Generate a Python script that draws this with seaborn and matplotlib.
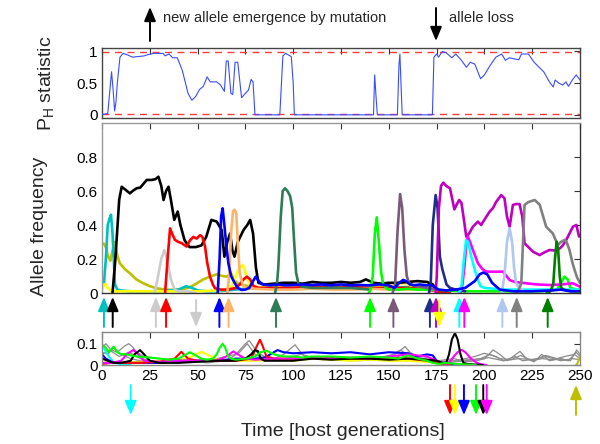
import numpy as np
import pandas as pd
import matplotlib
matplotlib.use("Agg")
import matplotlib.pyplot as plt
import seaborn as sns

# ---------------- data ----------------
# P_H statistic (top panel)
ph_t = [0,1,3,4,5,5.8,6.6,7.3,8,9.4,11,13,16,19,22,24,27,30,32,33,35,37,39.4,42,45,47,49,51,53,55,
        56.6,58,60,62,64,65,66,67.4,68.4,69.6,71,73,75,76.6,78,79,80,85,90,93,94.6,96,99,100,100.6,
        105,120,135,142,142.6,143.3,144,150,154.5,155.3,155.8,157,165,172.8,173.6,175,176,178,180,183,
        185,188,190.6,192.6,195,198,200,203,206,209,211,213,216,218,219.4,223,226,231,234,236,237,239,
        241,242.6,244,246,248,250]
ph_v = [0.01,0.01,0.02,0.35,0.68,0.4,0.06,0.2,0.5,0.91,0.97,0.95,0.91,0.92,0.93,0.95,0.97,0.97,0.97,0.93,
        0.96,0.9,0.9,0.7,0.34,0.23,0.29,0.4,0.45,0.6,0.52,0.52,0.52,0.47,0.37,0.85,0.85,0.34,0.32,0.83,
        0.83,0.27,0.34,0.39,0.56,0.52,0.0,0.0,0.0,0.0,0.93,0.97,0.92,0.5,0.0,0.0,0.0,0.0,0.0,0.63,
        0.3,0.0,0.0,0.0,0.78,0.96,0.0,0.0,0.0,0.91,0.96,0.91,1.0,0.98,0.9,0.96,0.86,0.75,0.83,0.8,
        0.57,0.63,0.78,0.91,0.96,0.86,0.9,0.88,0.87,0.96,0.96,0.83,0.68,0.52,0.44,0.55,0.5,0.47,0.52,0.45,
        0.55,0.63,0.55]

# Allele frequencies (middle panel)
olive_t = [0,1,2,3,4.4,5.5,6.7,8,9.3,12,14.6,18,21.6,25,28.6,33,37.3,41,44.3,47,49.6,53,56.5,60,63,
           65.6,67.3,69,70.8,74,77.7,85,100,120,140,160,175]
olive_f = [0.29,0.29,0.27,0.22,0.19,0.25,0.3,0.22,0.175,0.14,0.116,0.08,0.057,0.04,0.028,0.02,0.018,0.022,
           0.028,0.04,0.057,0.08,0.096,0.11,0.1,0.096,0.12,0.08,0.057,0.045,0.04,0.03,0.025,0.03,0.025,0.03,0.02]
teal_t = [0,1,2,3,4,4.7,5.5,6.8,8,10,15,20,30,40,44,47,50,55,60,70,80,90,100,120,140,160,175]
teal_f = [0.03,0.05,0.2,0.4,0.44,0.46,0.35,0.05,0.02,0.015,0.01,0.01,0.01,0.02,0.04,0.03,0.015,0.01,0.01,
          0.02,0.03,0.03,0.03,0.035,0.03,0.035,0.02]
black_t = [5.5,7,9,10.3,12,14.6,16,18.1,20,23.4,26,28,29.5,31,32.2,33.5,34.8,36,37.8,39.6,41,43.2,45.8,49,
           52,54.5,57.2,60,62.6,64,65.5,67,68.2,69.3,71,74,76,77.5,79,80.5,81.8,85,90,95,100,105,110,115,
           120,125,130,135,138,142,146,150,155,160,165,170,173,175,176]
black_f = [0.0,0.2,0.55,0.625,0.61,0.586,0.6,0.616,0.62,0.665,0.665,0.67,0.684,0.63,0.547,0.6,0.625,0.55,
           0.43,0.479,0.4,0.31,0.27,0.27,0.28,0.33,0.43,0.42,0.37,0.214,0.3,0.35,0.25,0.214,0.3,0.37,0.4,
           0.43,0.35,0.15,0.06,0.05,0.055,0.06,0.06,0.055,0.065,0.06,0.06,0.065,0.06,0.065,0.08,0.06,0.055,
           0.06,0.06,0.065,0.07,0.065,0.05,0.02,0.0]
yellow_t = [0,1,2,3,5,10,20,30,40,50,60,65,68,70,72,73.7,75,77,80,90,100,110,120,130,140,150,155,158,
            162,167,172,176,177]
yellow_f = [0.02,0.05,0.05,0.03,0.01,0.01,0.01,0.01,0.01,0.01,0.015,0.02,0.04,0.1,0.15,0.165,0.12,0.05,
            0.03,0.035,0.03,0.035,0.03,0.035,0.03,0.04,0.05,0.06,0.04,0.04,0.03,0.01,0.0]
lgray_t = [27.5,29,31,32.6,34,36,38,40,42,45,49]
lgray_f = [0.0,0.08,0.2,0.253,0.2,0.08,0.02,0.01,0.01,0.01,0.0]
red_t = [33,34.3,35.6,37,38.2,40,41.7,44.3,46,47.8,49.5,51.3,52.5,53.9,55,56.5,58,59.1,62,66,70,72,74,
         75.8,77.5,79.3,82,90,100,110,120,130,140,150,160,170,175,180,182]
red_f = [0.0,0.2,0.38,0.34,0.312,0.3,0.293,0.273,0.31,0.33,0.32,0.34,0.33,0.273,0.18,0.096,0.05,0.028,
         0.02,0.02,0.03,0.05,0.08,0.096,0.08,0.04,0.03,0.03,0.03,0.04,0.03,0.035,0.03,0.03,0.03,0.02,0.01,
         0.005,0.0]
orange_t = [65.5,66.5,67.5,68.5,69.3,70.2,71,72,73.5,75,80,90,100,110,120,130,140,150,160,170,175]
orange_f = [0.0,0.1,0.35,0.48,0.49,0.47,0.3,0.12,0.05,0.03,0.025,0.02,0.02,0.025,0.02,0.02,0.025,0.02,
            0.02,0.02,0.015]
sgreen_t = [90.5,91.5,92.2,93.5,94.5,95.7,97,98.4,99.5,100.5,101.5,102.7,104,106,110,120,130,140]
sgreen_f = [0.0,0.05,0.15,0.45,0.6,0.616,0.6,0.57,0.5,0.3,0.12,0.057,0.04,0.035,0.03,0.03,0.03,0.02]
lime_t = [139.5,140.5,141.6,142.7,143.7,144.8,146,147.1,148.5,150,155,160,165,170,175,180,190,200,210,
          220,230,238,240,241.9,243.5,245,248,250]
lime_f = [0.0,0.02,0.1,0.35,0.445,0.3,0.12,0.05,0.03,0.02,0.02,0.025,0.02,0.02,0.02,0.015,0.01,0.01,
          0.01,0.01,0.01,0.02,0.06,0.096,0.08,0.03,0.02,0.02]
mauve_t = [152,153.3,154.5,155.9,157,158.2,159.4,160.5,162,165,170,175]
mauve_f = [0.0,0.05,0.35,0.582,0.5,0.25,0.1,0.06,0.05,0.04,0.03,0.02]
navy_t = [171,171.9,173,174.5,175.5,176.7,178,180.2,182,185,190]
navy_f = [0.0,0.05,0.4,0.576,0.5,0.214,0.14,0.05,0.03,0.02,0.01]
purple_t = [174.5,175.1,176.2,177.3,178.5,180,182,184.3,185.5,186.8,188,189.3,190.5,192,194,196.6,198.3,
            200.5,202.7,204.5,206.2,208.8,210.5,211.8,213.2,214.9,216.5,218.4,219.8,221,223,225.4,228.9,
            231.5,234.1,236.7,239.4,241,242.8,244.5,246.3,248.1,249.5]
purple_f = [0.0,0.1,0.5,0.63,0.649,0.63,0.616,0.492,0.52,0.547,0.53,0.43,0.332,0.35,0.39,0.42,0.4,0.44,
            0.478,0.5,0.537,0.576,0.557,0.45,0.39,0.518,0.523,0.523,0.45,0.292,0.27,0.243,0.223,0.24,
            0.253,0.25,0.262,0.28,0.312,0.35,0.39,0.4,0.332]
magenta_t = [187.5,188.5,189.5,190.5,191.3,192.5,194,196.6,199,201,205,209.7,211.5,213.2,216,221.9,228,
             234,240,246.3,250]
magenta_f = [0.0,0.05,0.15,0.28,0.332,0.3,0.253,0.175,0.14,0.126,0.125,0.126,0.1,0.076,0.065,0.057,0.05,
             0.047,0.05,0.057,0.037]
cyan_t = [186.5,187.5,188.1,189.3,190.4,191.5,193,195,196.5,198,200,205,210,220,230,240,250]
cyan_f = [0.0,0.02,0.05,0.2,0.31,0.3,0.22,0.135,0.08,0.04,0.03,0.025,0.02,0.02,0.02,0.02,0.02]
lblue_t = [209,210.5,211.8,213.2,214.5,215.5,216.6,218,220]
lblue_f = [0.0,0.1,0.3,0.38,0.3,0.15,0.057,0.03,0.02]
gray_t = [216.5,218,219.3,220.2,221,223,226.3,228.9,232.3,235.8,238.4,240,241.9,243,244.5,246,247.2,248.5,250]
gray_f = [0.0,0.02,0.057,0.3,0.518,0.535,0.547,0.52,0.39,0.35,0.282,0.3,0.312,0.3,0.253,0.18,0.135,0.09,0.06]
dgreen_t = [232.5,234.5,236,236.9,237.8,238.6,239.4,240.2,241.5,243,246,250]
dgreen_f = [0.0,0.01,0.05,0.2,0.302,0.25,0.1,0.03,0.02,0.015,0.01,0.01]
blue_t = [60.5,61.5,62.3,63.1,64,65,66.1,67.5,69.5,71,73,75,77,79,80.4,82,84,88,92,96,100,105,110,115,120,
          125,130,135,140,145,150,153,155.5,157.5,159,161,163,166,170,172,174,176,180,185,190,195,197.5,
          199.4,201.5,204,208,215,225,235,240,245,250]
blue_f = [0.0,0.2,0.45,0.498,0.4,0.28,0.175,0.1,0.057,0.03,0.018,0.02,0.03,0.07,0.096,0.07,0.05,0.045,
          0.05,0.045,0.047,0.05,0.047,0.05,0.045,0.05,0.045,0.047,0.045,0.05,0.045,0.03,0.06,0.077,0.07,
          0.05,0.045,0.05,0.045,0.047,0.035,0.02,0.015,0.02,0.03,0.07,0.11,0.12,0.11,0.06,0.02,0.01,0.01,
          0.015,0.02,0.01,0.01]

# bottom panel (low-frequency alleles)
g1_t = [0,2,5,8,12,14,16,18,22,30,40,50,60,70,75,77,79,81,85,90,95,99,101,103,106,110,120,130,140,150,
        155,158.5,161,165,170,180,190,200,204.6,208,212,218.6,222,226,230,234,240,245,248.3,250]
g1_f = [0.08,0.1,0.07,0.06,0.09,0.1,0.085,0.06,0.04,0.03,0.025,0.02,0.03,0.05,0.1,0.114,0.09,0.06,0.04,
        0.03,0.05,0.08,0.095,0.07,0.04,0.03,0.025,0.02,0.025,0.03,0.06,0.087,0.06,0.04,0.02,0.01,0.02,
        0.03,0.071,0.05,0.02,0.064,0.03,0.015,0.05,0.02,0.03,0.02,0.071,0.05]
g2_t = [0,3,6,10,15,20,28,35,45,55,65,72,76,80,88,96,104,115,125,135,145,152,156,160,168,175,185,195,
        200,206,210,216,220,228,232,238,244,248,250]
g2_f = [0.06,0.05,0.08,0.05,0.03,0.02,0.02,0.015,0.02,0.01,0.02,0.06,0.1,0.05,0.02,0.03,0.05,0.025,0.03,
        0.02,0.03,0.05,0.07,0.05,0.03,0.015,0.02,0.04,0.055,0.04,0.02,0.04,0.02,0.03,0.045,0.03,0.02,0.06,0.04]
g3_t = [150,155,160,165,170,178,185,192,198,203,208,214,219,225,230,236,242,247,250]
g3_f = [0.02,0.04,0.06,0.04,0.02,0.015,0.02,0.025,0.03,0.05,0.03,0.025,0.045,0.02,0.03,0.025,0.04,0.05,0.03]
g4_t = [0,4,9,14,20,26,160,168,176,184,190,196,202,210,218,226,232,240,246,250]
g4_f = [0.05,0.07,0.04,0.06,0.03,0.02,0.03,0.04,0.02,0.03,0.015,0.02,0.035,0.02,0.03,0.025,0.04,0.02,0.03,0.025]
bcyan_t = [0,1,2,4,6,8,10,12,15]
bcyan_f = [0.09,0.08,0.06,0.035,0.015,0.008,0.004,0.002,0.0]
bgreen_t = [0,1,2,3.5,5,6.1,7,8,10,11.6,15,18.5,25,30,35,40,43,46,49,52,55,58,60,61.5,63.1,64.5,66,67.5,
            70,75.6,80,83,86,90,95,100,105,110,120,130,140,150,155,160,165,170,173,176,180,185,190,195.6]
bgreen_f = [0.095,0.09,0.08,0.06,0.075,0.086,0.075,0.06,0.05,0.052,0.045,0.04,0.035,0.03,0.025,0.03,0.045,
            0.06,0.045,0.03,0.025,0.03,0.05,0.08,0.1,0.08,0.04,0.03,0.025,0.03,0.04,0.06,0.067,0.05,0.04,
            0.04,0.035,0.04,0.04,0.035,0.04,0.035,0.03,0.045,0.03,0.02,0.01,0.005,0.01,0.005,0.003,0.0]
bblack_t = [0,3,6,10,15,17,19.9,22,25,30,40,50,60,70,75,78,80,81.6,83,85,90,100,110,120,130,140,150,160,
            170,175,178,180,181.5,183,184.6,186,187.5,189,191,195,199.4]
bblack_f = [0.03,0.02,0.01,0.01,0.02,0.05,0.07,0.05,0.02,0.01,0.01,0.015,0.02,0.02,0.03,0.05,0.07,0.065,
            0.03,0.02,0.02,0.02,0.03,0.025,0.03,0.03,0.025,0.03,0.025,0.02,0.01,0.01,0.05,0.12,0.15,0.12,
            0.05,0.01,0.005,0.002,0.0]
bmag_t = [0,5,10,13,16.4,19,22,30,40,50,60,65,68.7,71,75,80,90,100,110,120,130,140,150,160,170,175,180,
          181.5,184,186,188.1,190,193,196,199,201.2]
bmag_f = [0.01,0.01,0.02,0.05,0.071,0.05,0.02,0.015,0.02,0.02,0.02,0.04,0.064,0.05,0.03,0.025,0.03,0.03,
          0.035,0.03,0.035,0.03,0.04,0.05,0.04,0.02,0.005,0.01,0.04,0.06,0.071,0.06,0.03,0.01,0.002,0.0]
bred_t = [0,5,10,20,30,38,41.5,45,50,60,70,78,80.5,82.6,84,86,90,100,110,120,130,140,150,160,170,175,178,182]
bred_f = [0.005,0.01,0.01,0.01,0.015,0.03,0.062,0.03,0.02,0.02,0.02,0.03,0.08,0.119,0.09,0.04,0.03,0.03,
          0.03,0.035,0.03,0.03,0.035,0.03,0.02,0.01,0.005,0.0]
bblue_t = [0,2,5,10,20,30,40,50,60,70,80,85,88,91.8,95,100,110,120,130,140,150,160,165,170,173,175,178,
           181,185,189.3]
bblue_f = [0.05,0.03,0.015,0.01,0.01,0.01,0.02,0.02,0.02,0.03,0.03,0.035,0.05,0.07,0.06,0.055,0.06,0.055,
           0.06,0.05,0.06,0.055,0.04,0.05,0.045,0.02,0.01,0.005,0.002,0.0]
byellow_t = [0,5,10,20,30,40,47,52,57,60,70,80,90,100,110,120,130,140,150,160,170,175,180,184.6]
byellow_f = [0.01,0.015,0.01,0.015,0.02,0.02,0.04,0.062,0.04,0.025,0.02,0.02,0.025,0.02,0.03,0.025,0.02,
             0.025,0.02,0.02,0.015,0.01,0.005,0.0]
bolive_t = [247.9,248.5,249.2,250]
bolive_f = [0.0,0.005,0.02,0.04]

# events (arrows)
mid_up_t = [1.0, 5.6, 28.2, 33.5, 61.4, 66.2, 91.0, 140.2, 152.4, 171.5, 174.7, 186.9, 189.5, 209.4, 216.9, 233.1]
mid_up_c = ['#00BFBF', 'black', '#CCCCCC', 'red', 'blue', '#FFB366', '#2E7D57', '#00FF00', '#7A5A78',
            '#1C2F8A', '#C000C0', '#00FFFF', '#FF00FF', '#B0C8F0', '#808080', '#007F00']
mid_down_t = [49.2, 176.4]
mid_down_c = ['#CCCCCC', '#FFFF00']
bot_down_t = [15.0, 182.0, 184.6, 189.3, 195.6, 199.4, 201.2]
bot_down_c = ['#00FFFF', 'red', '#FFFF00', 'blue', '#00FF00', 'black', '#FF00FF']
bot_up_t = [247.9]
bot_up_c = ['#BFBF00']

# ---------------- style ----------------
sns.set_theme(style="white")
plt.rcParams['font.family'] = ['Liberation Sans', 'DejaVu Sans']
plt.rcParams['mathtext.default'] = 'regular'
plt.rcParams['xtick.direction'] = 'in'
plt.rcParams['ytick.direction'] = 'in'

W, H = 600, 444
fig = plt.figure(figsize=(6.0, 4.44), dpi=100)

def fx(px):
    return px / W

def fy(py):
    return 1 - py / H

L, R = 102, 580
ax_top = fig.add_axes([fx(L), fy(118), (R - L) / W, (118 - 48.3) / H])
ax_mid = fig.add_axes([fx(L), fy(293), (R - L) / W, (293 - 123) / H])
ax_bot = fig.add_axes([fx(L), fy(365), (R - L) / W, (365 - 332) / H])


def draw(ax, t, f, color, lw, z=2):
    n = min(len(t), len(f))
    df = pd.DataFrame({'t': t[:n], 'f': f[:n]})
    sns.lineplot(data=df, x='t', y='f', color=color, linewidth=lw, ax=ax,
                 estimator=None, sort=False, legend=False, zorder=z)

# top panel
ax_top.axhline(0.985, color='#FF3B3B', lw=1.0, ls=(0, (5, 4)), zorder=1)
ax_top.axhline(0.015, color='#FF3B3B', lw=1.0, ls=(0, (5, 4)), zorder=1)
draw(ax_top, ph_t, ph_v, '#3A4CFF', 0.8, z=3)
ax_top.set_xlim(0, 250)
ax_top.set_ylim(-0.05, 1.05)
ax_top.set_yticks([0, 0.5, 1])
ax_top.set_yticklabels(['0', '0.5', '1'])
ax_top.set_xticks(np.arange(0, 251, 25))
ax_top.set_xticklabels([])

# middle panel
LWM = 1.9
mid_series = [
    (olive_t, olive_f, '#BFBF00'),
    (teal_t, teal_f, '#00BFBF'),
    (yellow_t, yellow_f, '#FFFF00'),
    (black_t, black_f, 'black'),
    (lgray_t, lgray_f, '#CCCCCC'),
    (red_t, red_f, 'red'),
    (orange_t, orange_f, '#FFB366'),
    (sgreen_t, sgreen_f, '#2E7D57'),
    (lime_t, lime_f, '#00FF00'),
    (mauve_t, mauve_f, '#7A5A78'),
    (navy_t, navy_f, '#1C2F8A'),
    (purple_t, purple_f, '#C000C0'),
    (magenta_t, magenta_f, '#FF00FF'),
    (cyan_t, cyan_f, '#00FFFF'),
    (lblue_t, lblue_f, '#B0C8F0'),
    (gray_t, gray_f, '#808080'),
    (dgreen_t, dgreen_f, '#007F00'),
    (blue_t, blue_f, 'blue'),
]
for t, f, c in mid_series:
    draw(ax_mid, t, f, c, LWM)
ax_mid.set_xlim(0, 250)
ax_mid.set_ylim(0, 1)
ax_mid.set_yticks([0, 0.2, 0.4, 0.6, 0.8])
ax_mid.set_yticklabels(['0', '0.2', '0.4', '0.6', '0.8'])
ax_mid.set_xticks(np.arange(0, 251, 25))
ax_mid.set_xticklabels([])

# bottom panel
for t, f in [(g1_t, g1_f), (g2_t, g2_f), (g3_t, g3_f), (g4_t, g4_f)]:
    draw(ax_bot, t, f, '#8C8C8C', 0.9)
bot_series = [
    (bcyan_t, bcyan_f, '#00FFFF'),
    (byellow_t, byellow_f, '#FFFF00'),
    (bblue_t, bblue_f, 'blue'),
    (bred_t, bred_f, 'red'),
    (bmag_t, bmag_f, '#FF00FF'),
    (bblack_t, bblack_f, 'black'),
    (bgreen_t, bgreen_f, '#00FF00'),
    (bolive_t, bolive_f, '#BFBF00'),
]
for t, f, c in bot_series:
    draw(ax_bot, t, f, c, 1.5)
ax_bot.set_xlim(0, 250)
ax_bot.set_ylim(0, 0.155)
ax_bot.set_yticks([0, 0.1])
ax_bot.set_yticklabels(['0', '0.1'])
ax_bot.set_xticks(np.arange(0, 251, 25))
ax_bot.set_xticklabels([str(v) for v in range(0, 251, 25)])

for ax in (ax_top, ax_mid, ax_bot):
    ax.set_xlabel('')
    ax.set_ylabel('')
    ax.tick_params(axis='both', which='both', direction='in', length=4, width=0.8,
                   top=True, right=True, labelsize=11, colors='#333333', labelcolor='black', pad=3)

for s in ax_top.spines.values():
    s.set_color('#444444'); s.set_linewidth(1.0)
for k, s in ax_mid.spines.items():
    s.set_color('#999999' if k in ('left', 'top') else '#333333'); s.set_linewidth(1.0)
for s in ax_bot.spines.values():
    s.set_color('#888888'); s.set_linewidth(1.0)

# arrows
AST = '-|>,head_length=0.6,head_width=0.25'

def arrow(ax, t, y0, y1, c, lw=1.4):
    ax.annotate('', xy=(t, fy(y1)), xytext=(t, fy(y0)),
                xycoords=('data', 'figure fraction'), textcoords=('data', 'figure fraction'),
                annotation_clip=False,
                arrowprops=dict(arrowstyle=AST, color=c, lw=lw, mutation_scale=14,
                                shrinkA=0, shrinkB=0))

for t, c in zip(mid_up_t, mid_up_c):
    arrow(ax_mid, t, 327, 297, c)
for t, c in zip(mid_down_t, mid_down_c):
    arrow(ax_mid, t, 300, 327, c)
for t, c in zip(bot_down_t, bot_down_c):
    arrow(ax_bot, t, 385, 415, c)
for t, c in zip(bot_up_t, bot_up_c):
    arrow(ax_bot, t, 415, 385, c)

# legend-like annotations at the top
def farrow(x, y0, y1):
    fig.add_artist(matplotlib.patches.FancyArrowPatch(
        (fx(x), fy(y0)), (fx(x), fy(y1)), transform=fig.transFigure,
        arrowstyle=AST, mutation_scale=14, color='black', lw=1.4, shrinkA=0, shrinkB=0))

farrow(150, 41, 7)
fig.text(fx(163), fy(18), 'new allele emergence by mutation', fontsize=10.5, ha='left', va='center')
farrow(436, 8, 41)
fig.text(fx(449), fy(18), 'allele loss', fontsize=10.5, ha='left', va='center')

# axis labels
fig.text(fx(46), fy(83), 'P$_H$ statistic', rotation=90, fontsize=14, ha='center', va='center')
fig.text(fx(40), fy(226), 'Allele frequency', rotation=90, fontsize=14, ha='center', va='center')
fig.text(fx(343), fy(431), 'Time [host generations]', fontsize=14, ha='center', va='center')

fig.savefig('out.png', dpi=100, facecolor='white')
